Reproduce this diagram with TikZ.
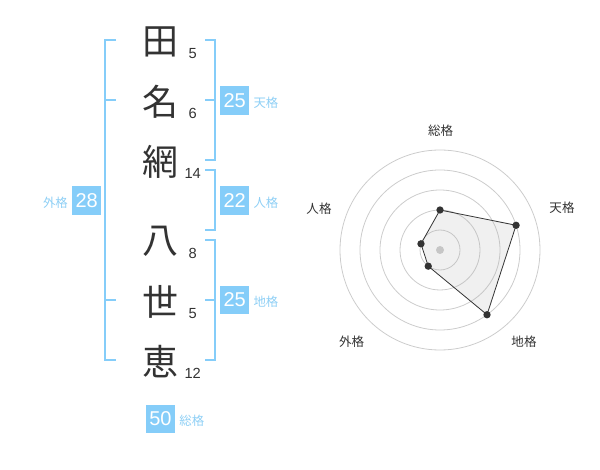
\documentclass[tikz,border=0pt]{standalone}
\usepackage{fontspec}
\setmainfont{Liberation Sans}
\newfontfamily\jpfont{Noto Sans CJK JP}
\usepackage{tikz}
\usetikzlibrary{positioning,calc}

\definecolor{kakublue}{HTML}{85CDF9}
\definecolor{kakutext}{HTML}{8ECFF5}
\definecolor{inkgray}{HTML}{333333}
\definecolor{ringgray}{HTML}{CCCCCC}

\tikzset{
  kanji/.style={text=inkgray, font=\jpfont\fontsize{27}{27}\selectfont, inner sep=0pt},
  strokes/.style={text=inkgray, font=\fontsize{11}{11}\selectfont, inner sep=0pt},
  kakubox/.style={fill=kakublue, text=white, minimum width=21.5pt, minimum height=21.5pt, inner sep=0pt, font=\fontsize{15}{15}\selectfont},
  kakulabel/.style={text=kakutext, font=\jpfont\fontsize{9.3}{9.3}\selectfont, inner sep=0pt},
  bracket/.style={draw=kakublue, line width=1.5pt},
  ring/.style={draw=ringgray, line width=0.6pt},
  axislabel/.style={text=inkgray, font=\jpfont\fontsize{9.4}{9.4}\selectfont, inner sep=0pt},
  dot/.style={circle, fill=inkgray, inner sep=0pt, minimum size=5.5pt}
}

\begin{document}
\begin{tikzpicture}[x=0.75pt,y=0.75pt,yscale=-1,xscale=1]
        \useasboundingbox (0,0) rectangle (600,470);

        % Text Node
        \node[kanji] (k1) at (160,41.7) {田};
        \node[kanji] (k2) at (160,101.7) {名};
        \node[kanji] (k3) at (160,161.7) {網};
        \node[kanji] (k4) at (160,241.7) {八};
        \node[kanji] (k5) at (160,301.7) {世};
        \node[kanji] (k6) at (160,361.7) {恵};

        % Text Node
        \node[strokes] (s1) at (192.7,53.3) {5};
        \node[strokes] (s2) at (192.7,113.3) {6};
        \node[strokes] (s3) at (192.7,173.3) {14};
        \node[strokes] (s4) at (192.7,253.3) {8};
        \node[strokes] (s5) at (192.7,313.3) {5};
        \node[strokes] (s6) at (192.7,373.3) {12};

        %Straight Lines
        \draw[bracket] (116,40) -- (105,40) -- (105,360) -- (116,360) ;
        \draw[bracket] (105,100) -- (116,100) ;
        \draw[bracket] (105,300) -- (116,300) ;

        %Straight Lines
        \draw[bracket] (205,40) -- (214.5,40) -- (214.5,160) -- (205,160) ;
        \draw[bracket] (205,100) -- (214.5,100) ;
        \draw[bracket] (205,170) -- (214.5,170) -- (214.5,230) -- (205,230) ;
        \draw[bracket] (205,240) -- (214.5,240) -- (214.5,360) -- (205,360) ;
        \draw[bracket] (205,300) -- (214.5,300) ;

        % Text Node
        \node[kakubox] (b25t) at (234.7,100.5) {25};
        \node[kakulabel, right=3pt of b25t.base east, anchor=base west] (l25t) {天格};
        \node[kakubox] (b22) at (234.7,200.5) {22};
        \node[kakulabel, right=3pt of b22.base east, anchor=base west] (l22) {人格};
        \node[kakubox] (b25c) at (234.7,300) {25};
        \node[kakulabel, right=3pt of b25c.base east, anchor=base west] (l25c) {地格};
        \node[kakubox] (b28) at (86.7,200.5) {28};
        \node[kakulabel, left=3pt of b28.base west, anchor=base east] (l28) {外格};
        \node[kakubox] (b50) at (160.5,419) {50};
        \node[kakulabel, right=3pt of b50.base east, anchor=base west] (l50) {総格};

        %Shape: Circle
        \coordinate (c) at (440,250);
        \draw[ring] (c) circle (20);
        \draw[ring] (c) circle (40);
        \draw[ring] (c) circle (60);
        \draw[ring] (c) circle (80);
        \draw[ring] (c) circle (100);
        \fill[ringgray] (c) circle (4);

        %Shape: Polygon
        \coordinate (psou) at ($(c)+(-90:40)$);
        \coordinate (pten) at ($(c)+(-18:80)$);
        \coordinate (pchi) at ($(c)+(54:80)$);
        \coordinate (pgai) at ($(c)+(126:20)$);
        \coordinate (pjin) at ($(c)+(198:20)$);
        \draw[inkgray, line width=0.6pt, fill=black!30, fill opacity=0.2] (psou) -- (pten) -- (pchi) -- (pgai) -- (pjin) -- cycle ;
        \node[dot] at (psou) {};
        \node[dot] at (pten) {};
        \node[dot] at (pchi) {};
        \node[dot] at (pgai) {};
        \node[dot] at (pjin) {};

        % Text Node
        \node[axislabel] (asou) at (440.7,130.7) {総格};
        \node[axislabel] (aten) at (562,208) {天格};
        \node[axislabel] (achi) at (524,342) {地格};
        \node[axislabel] (agai) at (351.7,342) {外格};
        \node[axislabel] (ajin) at (319,209) {人格};
\end{tikzpicture}
\end{document}
